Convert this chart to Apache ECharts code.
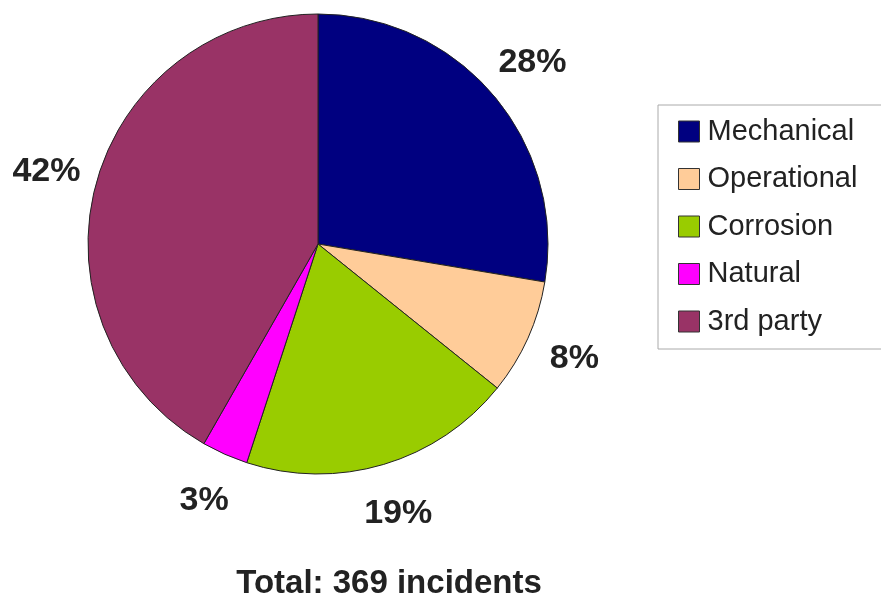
<!DOCTYPE html>
<html>
<head>
<meta charset="utf-8">
<script src="https://cdn.jsdelivr.net/npm/echarts@6/dist/echarts.min.js"></script>
<style>html,body{margin:0;padding:0;background:#fff}#c{width:881px;height:603px}</style>
</head>
<body>
<div id="c"></div>
<script>
const categories = ['Mechanical', 'Operational', 'Corrosion', 'Natural', '3rd party'];
const incidents = [102, 30, 71, 12, 154];
const colors = ['#000080', '#FFCC99', '#99CC00', '#FF00FF', '#993366'];
const totalLabel = 'Total: 369 incidents';

const font = '"Liberation Sans", Arial, sans-serif';
const pieData = categories.map((n, i) => ({ name: n, value: incidents[i], itemStyle: { color: colors[i] } }));
const labelData = categories.map((n, i) => ({ name: n, value: incidents[i] }));

const chart = echarts.init(document.getElementById('c'), null, { renderer: 'canvas' });
chart.setOption({
  animation: false,
  backgroundColor: '#ffffff',
  title: {
    text: totalLabel,
    left: 384,
    textAlign: 'center',
    top: 562,
    textStyle: { fontFamily: font, fontSize: 33, fontWeight: 'bold', color: '#222' }
  },
  legend: {
    orient: 'vertical',
    left: 658,
    top: 105,
    data: categories,
    icon: 'rect',
    itemWidth: 21,
    itemHeight: 21,
    itemGap: 18.5,
    padding: [12, 40, 13, 20],
    borderColor: '#aaaaaa',
    borderWidth: 1,
    itemStyle: { borderColor: '#333', borderWidth: 1 },
    textStyle: { fontFamily: font, fontSize: 29, color: '#222', padding: [0, 0, 0, 3] }
  },
  series: [
    {
      type: 'pie',
      center: [318, 244],
      radius: 230,
      startAngle: 90,
      clockwise: true,
      percentPrecision: 0,
      silent: true,
      label: { show: false },
      labelLine: { show: false },
      itemStyle: { borderColor: '#222', borderWidth: 1 },
      data: pieData
    },
    {
      type: 'pie',
      center: [318, 244],
      radius: [230, 326],
      startAngle: 90,
      clockwise: true,
      percentPrecision: 0,
      silent: true,
      legendHoverLink: false,
      itemStyle: { color: 'rgba(0,0,0,0)', borderWidth: 0 },
      label: {
        show: true,
        position: 'inside',
        formatter: '{d}%',
        fontFamily: font,
        fontSize: 34,
        fontWeight: 'bold',
        color: '#222'
      },
      labelLine: { show: false },
      data: labelData
    }
  ]
});
</script>
</body>
</html>
